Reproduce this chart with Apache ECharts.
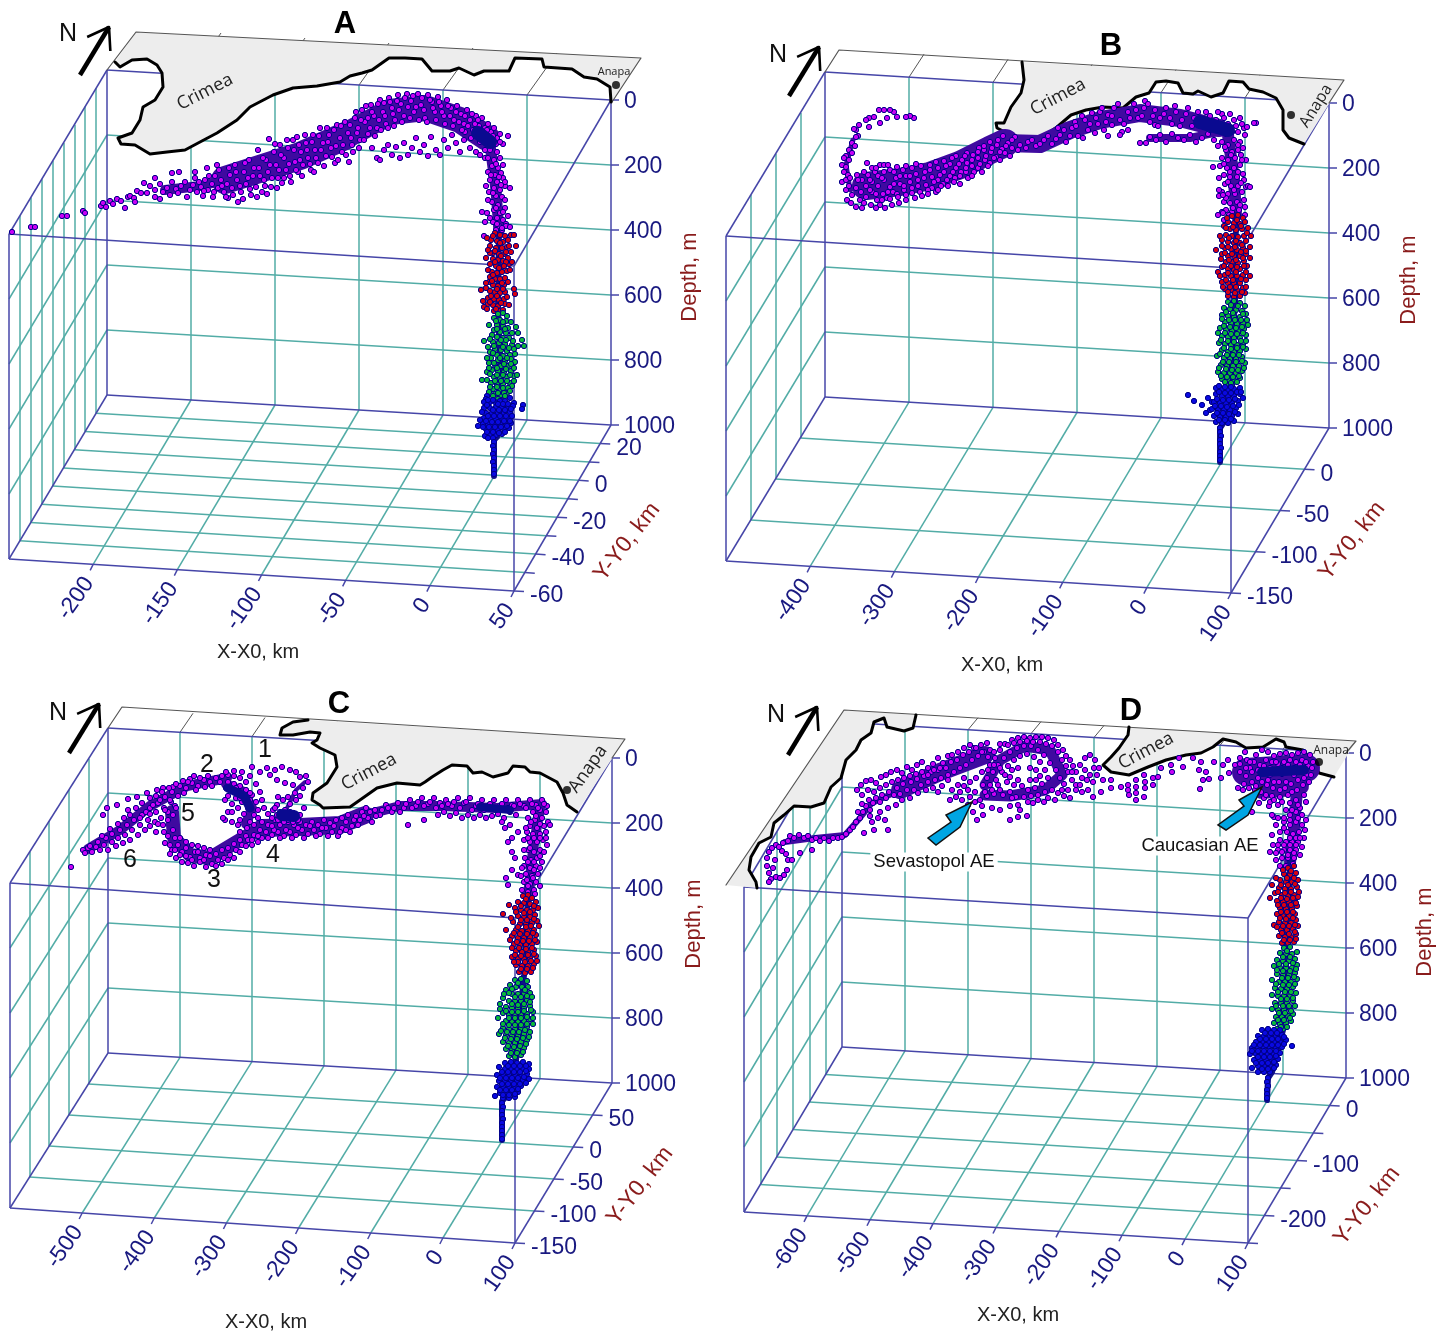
<!DOCTYPE html>
<html><head><meta charset="utf-8">
<style>html,body{margin:0;padding:0;background:#fff}#c{width:1448px;height:1331px}</style>
<script src="https://cdn.jsdelivr.net/npm/echarts@6/dist/echarts.min.js"></script></head>
<body><div id="c"></div>
<script>
// ---------- tick labels ----------
const depthTicks=[0,200,400,600,800,1000];
const A_xTicks=[-200,-150,-100,-50,0,50], A_yTicks=[20,0,-20,-40,-60];
const B_xTicks=[-400,-300,-200,-100,0,100], B_yTicks=[0,-50,-100,-150];
const C_xTicks=[-500,-400,-300,-200,-100,0,100], C_yTicks=[50,0,-50,-100,-150];
const D_xTicks=[-600,-500,-400,-300,-200,-100,0,100], D_yTicks=[0,-100,-200];

// ---------- coastlines ----------
const A_coast=[115,62,120,67,132,60,147,59,157,65,162,73,163,87,155,100,143,107,140,120,132,133,118,138,121,144,135,145,150,154,167,152,185,150,200,142,217,133,237,120,250,107,273,95,293,88,317,86,340,82,350,76,362,73,372,70,389,58,405,58,422,59,432,71,450,71,459,68,474,75,484,71,509,71,515,58,542,59,544,67,572,69,584,77,597,79,610,87,611,102];
const B_coast=[1022,62,1024,80,1021,93,1011,107,1004,123,996,123,997,128,1007,133,1014,138,1041,138,1057,127,1071,115,1086,110,1103,107,1123,108,1136,97,1149,93,1156,82,1166,81,1178,83,1183,93,1193,94,1198,91,1211,97,1223,93,1229,81,1243,82,1249,89,1263,92,1276,98,1283,110,1283,130,1289,138,1304,144];
const C_coast=[308,720,293,722,282,728,280,735,293,735,310,732,320,733,317,740,312,743,320,748,335,755,337,767,327,783,313,793,312,800,320,805,323,808,350,807,360,800,377,788,397,783,420,785,425,782,432,777,443,770,452,765,467,766,473,773,482,772,493,777,508,773,513,766,525,767,530,772,540,773,557,782,563,793,567,805,577,812];
const D_coastW=[916,715,913,728,904,731,887,727,884,718,874,722,871,733,861,740,856,750,846,760,841,778,831,787,824,803,811,807,794,806,784,815,774,823,771,837,759,843,751,857,749,870,756,882,757,888];
const D_coastE=[1129,727,1128,735,1119,748,1111,757,1103,765,1111,772,1129,775,1148,767,1166,760,1186,755,1201,753,1213,747,1223,739,1236,742,1246,748,1263,747,1276,739,1284,742,1286,747,1303,750,1313,762,1319,773,1334,777];

// ---------- purple surface-layer points ----------
const A_purple=[12,232,31,227,35,227,62,216,67,216,83,211,85,213,101,206,103,203,106,207,110,201,113,204,117,199,121,201,125,208,128,197,130,196,134,198,135,202,137,191,141,193,144,183,147,193,155,197,160,199,155,178,172,173,179,172,
150,186,155,190,160,184,163,192,167,188,172,182,170,195,176,189,181,186,178,193,185,182,190,190,187,197,193,185,195,178,197,192,201,187,205,180,203,196,208,190,207,168,212,184,215,176,213,197,218,188,221,180,219,170,224,192,227,184,230,175,228,198,232,188,235,165,237,180,238,202,241,192,244,172,246,184,249,160,251,195,253,176,256,187,258,150,259,168,262,192,264,180,266,160,268,172,269,139,271,187,274,152,276,165,278,178,280,145,282,183,284,158,286,170,288,148,290,176,293,140,295,162,297,137,298,172,301,152,303,165,306,143,308,158,311,170,313,135,315,150,318,163,320,128,323,143,326,156,329,135,331,148,335,163,337,125,340,138,342,152,345,122,348,133,349,162,352,145,355,118,358,128,360,140,362,110,365,122,368,134,371,105,374,116,377,128,380,100,383,112,386,124,389,98,392,108,395,120,398,95,401,104,404,116,407,94,411,101,414,112,418,94,421,105,425,118,428,95,432,102,435,112,438,97,441,106,444,116,447,100,451,108,454,120,457,106,461,114,464,124,467,110,470,120,473,130,476,116,479,126,482,118,485,128,488,124,491,132,494,128,497,138,500,134,503,144,508,136,492,146,485,150,480,142,478,134,471,138,465,132,
372,148,377,158,380,160,384,150,388,145,392,155,396,147,400,158,404,143,408,155,412,148,416,138,420,152,424,145,428,156,431,137,436,150,440,155,444,140,448,148,452,135,456,143,460,152,464,140,470,148,476,152,480,155,
490,150,497,152,485,158,494,160,500,158,492,166,498,168,488,172,495,175,501,173,490,180,497,182,503,178,494,188,500,190,489,192,496,196,502,197,492,202,498,205,505,200,494,210,500,213,487,213,505,208,497,218,503,220,493,222,499,226,506,224,482,212,485,222,484,236,505,186,510,188,506,226,510,227,496,230,502,230];
const A_purple2=[195,172,199,182,204,191,209,176,214,192,217,165,222,186,226,197,229,168,233,195,236,172,240,186,243,199,245,163,248,178,250,189,254,168,257,197,260,176,263,158,265,186,267,194,270,165,272,178,275,144,277,188,279,170,281,155,284,178,287,140,289,164,291,182,294,150,296,170,299,145,300,160,302,176,305,135,307,150,310,164,312,142,314,172,316,158,319,136,321,150,324,166,327,128,328,142,332,157,334,130,336,146,338,160,341,126,343,145,346,155,350,125,351,138,353,152,356,112,357,133,359,148,361,120,364,140,366,106,368,118,370,128,372,112,375,136,378,104,379,120,381,130,384,103,385,116,388,128,390,102,393,114,394,126,397,101,399,110,402,122,405,98,408,107,410,118,413,96,416,107,419,120,422,98,424,110,427,122,430,100,433,108,436,120,439,102,442,112,445,124,448,106,450,116,453,126,456,112,459,122,462,130,465,116,468,126,472,114,475,124,478,120,481,130,484,136,487,130,490,138,493,136,496,144,500,142,486,142,488,158,496,164,503,165,491,175,499,177,505,182,486,186,493,193,501,185,488,200,496,208,503,212,490,218,497,224,502,228,508,216];
const B_purple=[914,118,910,116,906,117,897,117,894,112,890,110,884,110,879,110,887,118,880,123,874,117,869,118,866,120,869,127,859,125,856,130,854,129,858,136,856,137,852,143,855,146,849,150,852,153,846,156,844,158,849,160,842,165,846,167,844,172,848,175,842,182,846,180,850,178,846,190,849,186,847,200,852,195,851,203,856,207,862,208,
857,175,867,163,872,168,862,180,868,175,875,172,880,165,884,165,856,188,861,192,866,186,872,182,878,176,884,172,860,200,866,197,872,192,878,186,884,180,890,170,897,167,871,205,877,200,883,194,890,187,896,178,903,170,880,205,887,198,893,192,900,184,906,176,912,168,890,199,897,194,904,190,910,182,916,174,921,166,906,195,912,188,918,180,925,172,930,165,920,192,926,185,932,177,938,168,944,161,932,188,938,180,944,172,950,164,956,156,943,184,950,176,956,168,962,160,967,153,955,178,961,172,967,163,973,155,979,148,966,172,972,166,978,158,984,150,990,142,978,168,985,160,991,152,997,145,1003,136,990,163,996,157,1002,149,1008,143,1015,137,1005,153,1012,148,1020,145,1028,142,1036,146,1044,140,1052,144,1060,135,1066,142,1072,128,1078,136,1085,120,1088,130,1083,138,1092,113,1098,124,1104,130,1108,115,1114,108,1120,120,1122,132,1128,112,1134,104,1138,118,1144,108,1150,122,1155,110,1160,118,1166,108,1172,124,1176,112,1182,120,1188,108,1192,126,1198,112,1204,122,1210,116,1216,120,1222,114,1228,124,1234,120,1240,118,1244,128,1256,123,1247,127,1145,101,1100,112,1112,125,1095,133,1075,122,1058,128,
1140,143,1146,143,1150,137,1156,140,1160,135,1166,142,1172,134,1178,138,1184,140,1190,135,1196,142,1202,138,1208,134,1214,140,1120,135,1128,130,1108,136,1155,125,
1222,142,1228,145,1234,140,1240,142,1245,135,1218,146,1226,150,1232,152,1238,150,1243,148,1222,158,1228,160,1235,158,1241,155,1220,166,1227,168,1234,168,1240,165,1246,160,1213,167,1224,175,1230,177,1237,177,1243,174,1225,184,1231,186,1238,186,1244,180,1219,178,1222,192,1228,194,1235,194,1242,192,1246,187,1219,196,1224,202,1230,203,1237,202,1244,200,1248,186,1226,210,1232,212,1239,210,1245,207,1222,212,1218,215];
const B_purple2=[858,180,864,172,870,180,876,168,870,190,876,194,882,178,888,165,894,172,864,203,876,208,882,200,888,192,894,184,900,176,906,166,885,208,892,205,898,197,904,186,910,176,916,164,899,203,906,200,912,193,918,186,924,178,930,170,936,162,915,198,922,196,928,190,934,182,940,175,946,166,952,158,928,194,936,192,941,186,947,180,953,172,959,164,965,156,938,190,948,186,954,182,960,176,966,168,972,160,978,152,984,146,960,184,968,178,974,172,980,164,986,156,992,148,998,140,972,176,982,172,988,166,994,158,1000,152,1006,146,1012,140,1000,160,1010,156,1018,150,1026,148,1032,140,1040,144,1048,136,1056,139,1064,130,1070,136,1076,126,1082,116,1090,124,1096,118,1102,108,1106,122,1112,116,1118,104,1124,124,1130,118,1136,110,1142,116,1148,104,1153,116,1158,126,1164,114,1170,118,1175,106,1180,126,1186,114,1194,118,1200,126,1206,112,1212,126,1218,112,1224,118,1230,114,1236,126,1242,124,1210,130,1220,130,1226,134,1232,132,1238,132,1216,124,1225,147,1231,155,1238,145,1242,160,1224,164,1230,172,1238,172,1228,182,1234,190,1241,183,1226,198,1233,208,1240,205,1229,215,1245,215,1224,220,1250,187,1254,123,1219,190,1223,195,1223,213];
const C_purple=[83,850,85,853,88,848,92,852,96,847,100,850,98,842,104,845,108,850,106,838,112,842,116,846,112,834,118,838,123,843,120,830,125,835,130,840,127,825,132,830,138,835,134,820,140,825,145,830,150,826,142,815,148,820,155,822,150,808,156,812,161,818,158,803,164,808,168,812,165,797,171,802,175,806,172,792,178,796,184,793,180,786,186,788,192,783,198,786,190,779,204,780,210,782,216,778,222,776,228,775,234,776,240,778,246,782,
107,808,117,805,128,799,137,797,147,793,157,790,163,788,173,787,188,782,200,778,103,815,71,867,
228,782,234,784,240,786,246,790,252,795,256,802,258,810,250,800,244,795,238,792,232,790,226,788,236,798,242,802,248,808,254,815,232,804,238,808,244,814,228,796,250,822,258,818,247,828,240,820,228,812,225,820,232,822,238,825,223,818,
140,818,146,812,153,805,160,800,130,815,165,810,170,800,163,825,168,820,173,815,176,808,173,830,175,838,170,845,165,843,172,850,178,845,182,852,186,848,190,857,195,852,200,858,206,855,170,854,176,858,182,862,188,863,194,866,200,862,206,867,212,864,218,860,224,858,230,855,222,850,216,854,210,850,204,848,198,846,192,845,186,842,180,838,228,848,234,844,240,840,246,836,236,850,242,845,248,840,254,835,252,845,258,842,262,838,260,830,266,832,272,835,278,832,284,836,290,832,296,835,302,830,308,834,314,830,320,834,326,828,332,832,338,836,342,828,350,832,346,822,254,825,262,822,268,825,275,820,280,825,288,822,294,825,300,822,306,825,312,822,318,825,324,820,330,823,336,820,342,818,348,815,354,820,358,825,362,812,368,818,372,822,366,808,375,810,380,815,386,805,392,812,398,803,404,808,410,800,416,806,422,798,428,804,434,798,440,803,446,800,452,806,458,798,464,803,470,798,476,806,482,800,488,806,494,800,500,806,506,800,512,805,518,800,524,806,530,800,536,805,542,800,547,806,
438,815,444,812,450,816,456,813,462,818,468,815,474,818,480,815,486,818,492,816,498,814,504,818,510,812,516,815,408,825,424,820,
252,767,260,772,267,768,275,770,282,767,290,770,300,777,308,782,303,788,295,793,288,797,283,800,278,797,277,805,273,810,287,813,293,813,270,775,277,780,285,783,293,785,280,812,285,810,290,812,295,815,298,820,283,818,288,820,293,822,277,815,272,818,268,814,275,808,
533,812,540,810,546,812,528,818,535,820,542,818,548,822,530,826,537,828,544,826,550,825,527,832,533,834,540,834,546,832,502,822,505,828,510,825,512,838,508,842,518,832,524,840,530,842,537,842,543,840,528,850,534,852,540,850,547,845,525,858,531,860,537,858,544,852,512,852,515,858,524,866,530,868,536,866,542,862,512,870,518,875,526,874,532,876,538,874,524,882,530,884,536,882,506,878,508,885,522,890,528,892,534,890,540,886];
const C_purple2=[90,846,102,836,110,829,118,824,124,818,128,810,136,808,142,803,150,798,156,796,162,792,169,788,176,784,183,781,194,776,208,776,226,772,234,771,242,772,250,776,256,784,260,792,262,800,264,808,220,782,212,786,205,787,196,790,240,798,246,802,236,788,250,793,225,800,232,812,240,832,150,814,158,824,164,832,168,836,156,832,175,850,180,855,186,856,192,860,198,852,204,860,210,856,216,866,222,864,228,860,234,858,240,852,246,846,252,840,258,836,268,838,274,830,280,838,286,830,292,838,298,828,304,838,310,826,316,836,322,828,328,836,334,826,340,832,346,830,352,826,356,816,360,820,364,816,370,812,376,816,382,810,388,808,394,808,400,812,406,804,412,808,418,802,424,806,430,802,436,808,442,806,448,804,454,802,460,808,466,802,472,810,478,804,484,810,490,804,496,810,502,804,508,808,514,806,520,804,526,808,532,804,538,808,544,804,290,816,284,822,278,820,272,826,300,815,304,808,296,800,290,804,300,796,306,776,296,772,
536,816,531,822,526,828,540,824,534,838,540,838,528,838,546,838,530,848,524,850,540,856,534,862,528,862,522,868,534,870,540,868,527,880,533,878,521,876,528,886,535,894];
const D_purple=[767,858,767,866,769,852,769,873,771,879,769,882,772,848,776,845,775,860,773,868,776,877,780,878,784,875,787,870,788,860,786,854,782,851,779,847,783,843,788,841,790,836,794,838,799,835,804,838,808,836,812,840,816,838,820,841,824,838,829,841,833,838,838,838,842,837,846,834,850,830,853,827,856,822,860,818,858,812,863,812,866,806,862,804,869,800,873,803,876,798,880,802,882,795,886,798,889,792,894,795,897,788,900,794,903,784,907,790,911,782,914,790,917,779,921,785,924,776,928,782,931,772,935,780,938,770,941,778,944,766,948,775,951,762,954,772,957,760,960,768,963,755,966,765,969,752,972,760,974,748,978,756,981,745,984,752,987,743,990,750,857,790,861,785,866,781,871,780,876,783,881,777,886,775,891,772,897,770,902,773,907,767,912,770,917,765,922,762,928,768,933,764,938,758,943,763,948,756,870,816,872,822,874,830,880,812,885,820,888,830,864,833,812,850,800,853,792,860,
990,765,995,758,1000,750,1005,744,1012,740,1018,738,1024,737,1030,738,1036,737,1042,737,1048,738,1054,740,1058,745,1063,750,1066,756,1070,760,1073,766,1068,772,1072,780,1064,784,1060,778,1056,770,1050,763,1044,755,1038,750,1031,746,1024,746,1017,748,1010,752,1004,758,998,765,993,772,987,778,983,785,990,785,996,780,1002,772,1008,766,1014,760,1020,756,1027,754,1034,757,1040,762,1045,770,1048,778,1042,784,1035,788,1028,790,1022,786,1014,785,1007,782,1000,790,994,794,987,796,980,800,975,792,970,797,968,790,964,786,960,792,1003,795,1010,792,1016,797,1024,797,1031,796,1038,795,1045,792,1052,790,1058,793,1064,796,1070,798,1055,800,1044,802,1033,803,982,806,992,808,1000,810,1010,806,1018,805,973,812,983,815,977,820,1018,817,1027,816,1020,810,1010,820,
1076,772,1080,765,1085,758,1090,755,1095,760,1099,768,1097,775,1093,782,1088,790,1082,792,1076,785,1085,770,1090,775,1087,780,1082,778,1094,768,1080,785,
1103,780,1111,780,1101,792,1093,797,1111,788,1121,787,1128,785,1128,790,1129,795,1136,780,1136,787,1136,793,1136,800,1144,775,1145,782,1145,788,1144,797,1153,778,1153,785,1158,777,1161,768,1171,765,1172,772,1179,758,1183,767,1193,758,1201,762,1199,770,1206,772,1203,780,1209,779,1200,789,1214,762,1223,765,1221,778,1228,760,1229,773,1238,788,1243,790,1249,788,1259,803,1269,806,1252,812,1274,817,
1235,765,1240,758,1245,752,1250,768,1256,755,1262,750,1268,752,1274,756,1280,754,1286,753,1292,755,1298,753,1304,752,1310,755,1313,762,1308,766,1302,760,1296,762,1290,760,1284,762,1278,764,1272,762,1266,760,1260,765,1254,762,1247,760,1240,772,1246,776,1252,782,1258,778,1264,772,1270,775,1276,770,1282,774,1288,770,1294,775,1300,770,1306,775,1309,782,1303,785,1297,790,1291,784,1285,788,1279,782,1273,788,1267,785,1261,792,1255,790,1272,796,1280,797,1288,795,1296,800,1304,795,1270,802,1278,805,1286,810,1264,798,1300,808,1306,802,
1290,815,1296,812,1302,815,1284,822,1290,825,1296,822,1302,825,1306,820,1280,832,1287,832,1293,834,1299,832,1305,830,1272,815,1276,825,1280,840,1286,842,1292,842,1298,842,1304,838,1272,835,1278,850,1284,850,1290,850,1296,850,1302,847,1273,845,1270,852,1276,860,1282,858,1288,858,1294,858,1300,855,1280,866,1286,866,1293,864];
const D_purple2=[862,795,868,790,874,792,880,788,886,785,892,782,898,780,904,778,910,776,916,774,922,772,928,775,934,770,940,768,946,768,952,755,958,752,964,748,970,745,976,748,982,752,988,757,994,752,1000,744,1008,745,1014,743,1020,742,1027,741,1033,742,1040,742,1046,744,1052,746,1058,752,1062,760,1066,766,1072,772,994,765,1000,768,988,770,982,772,976,778,970,782,964,778,958,785,952,790,948,780,942,786,938,792,933,788,926,790,918,793,910,798,902,800,896,805,888,808,878,818,870,810,1005,775,1012,770,1018,768,1030,768,1036,770,1040,776,1036,780,1030,780,1018,780,1010,777,998,785,992,790,985,792,1012,798,1028,802,1038,800,1048,798,1062,790,1076,790,1068,790,975,802,968,805,962,800,956,797,950,800,
1240,764,1246,768,1252,772,1258,770,1264,766,1270,768,1276,762,1282,768,1288,765,1294,768,1300,765,1306,762,1312,768,1244,784,1250,762,1256,786,1262,782,1268,780,1274,782,1280,790,1286,782,1292,792,1298,780,1304,778,1311,775,1266,795,1274,800,1282,802,1290,803,1298,805,1292,810,1284,818,1278,818,1298,818,1290,820,1284,828,1290,838,1296,838,1278,845,1284,845,1296,845,1290,845,1282,852,1288,855,1294,853,1276,853,1300,838];

// ---------- red (mid layer) points ----------
const A_red=[495,233,500,235,505,236,491,240,497,241,503,242,511,235,514,235,490,246,496,248,502,248,507,247,493,253,499,254,504,254,490,253,509,246,516,246,493,259,498,260,503,261,508,258,490,264,496,266,502,267,509,264,512,262,492,272,497,273,502,272,507,271,490,277,495,279,500,279,505,278,489,282,486,283,493,285,498,286,504,285,514,289,481,290,490,291,495,292,500,293,505,292,515,294,488,298,494,299,499,300,504,299,488,304,483,301,493,305,498,306,505,304,509,305,484,307,487,309,494,311,499,311,503,310];
const A_red2=[487,238,493,236,508,240,488,250,500,243,495,251,506,252,511,252,486,258,501,256,495,262,506,262,488,270,499,268,504,266,493,275,510,270,486,288,492,281,502,283,508,282,497,289,503,289,491,296,497,296,507,297,490,302,501,303,496,309];
const B_red=[1232,216,1238,215,1243,218,1228,222,1234,223,1240,224,1245,222,1224,226,1230,229,1236,230,1242,229,1248,228,1226,235,1232,236,1238,237,1244,236,1222,240,1228,242,1234,243,1240,243,1246,241,1251,236,1225,248,1231,249,1237,250,1243,248,1222,254,1228,256,1234,256,1240,256,1246,254,1216,250,1226,262,1232,262,1238,263,1244,261,1250,258,1222,267,1228,269,1234,270,1240,269,1247,266,1218,272,1225,275,1231,276,1237,276,1243,275,1222,282,1228,283,1234,283,1240,283,1246,280,1225,289,1231,290,1237,290,1243,288,1228,296,1234,297,1240,296,1245,293];
const B_red2=[1227,218,1237,220,1226,228,1233,227,1241,226,1220,236,1229,238,1236,241,1247,233,1222,246,1228,247,1235,247,1242,245,1250,247,1225,253,1232,254,1241,252,1246,251,1221,259,1229,260,1236,260,1243,258,1224,266,1231,266,1237,267,1244,266,1220,276,1228,273,1236,272,1246,272,1226,280,1233,280,1241,279,1250,276,1223,287,1230,287,1236,287,1246,287,1228,292,1235,293,1242,292];
const C_red=[523,896,528,895,532,898,518,902,524,903,530,904,536,902,515,908,521,910,527,910,533,910,538,908,509,905,518,916,524,917,530,917,535,915,513,922,520,924,526,924,532,923,537,921,503,914,516,930,522,931,528,931,534,930,512,936,518,938,524,938,530,937,536,935,506,930,514,944,520,945,526,945,532,944,537,942,516,951,522,952,528,952,534,950,512,957,518,959,524,959,530,958,536,956,516,965,522,966,528,966,534,964,519,972,525,973,531,972];
const C_red2=[526,899,521,906,534,906,530,912,524,913,516,912,511,918,527,920,521,920,534,919,518,927,526,927,531,926,539,926,514,933,520,934,533,933,527,934,510,940,517,942,523,941,529,941,535,940,512,948,519,948,526,949,532,948,515,955,521,956,528,955,534,954,518,962,525,962,531,961,537,961,521,969,527,969,533,968,514,962];
const D_red=[1288,868,1294,866,1284,874,1290,875,1296,873,1280,880,1286,882,1292,882,1298,880,1276,878,1272,885,1279,888,1285,889,1291,889,1297,887,1275,893,1282,895,1288,896,1294,895,1299,892,1270,898,1277,901,1283,902,1289,902,1295,901,1280,908,1286,909,1292,909,1297,906,1277,914,1283,916,1289,916,1295,914,1279,922,1285,923,1291,923,1296,920,1274,925,1281,930,1287,930,1293,929,1298,926,1279,936,1285,937,1291,937,1296,934,1282,943,1288,943,1294,942];
const D_red2=[1291,871,1283,870,1287,878,1294,878,1281,885,1288,885,1295,884,1278,892,1285,893,1291,892,1298,897,1281,898,1287,899,1293,898,1278,905,1284,905,1291,905,1296,903,1281,912,1287,912,1293,912,1280,918,1286,919,1293,918,1283,926,1289,926,1295,925,1277,927,1282,933,1289,934,1295,932,1284,940,1290,940,1296,939];

// ---------- green (deep layer) points ----------
const A_green=[498,314,503,313,507,316,494,318,500,320,506,321,511,322,497,325,503,326,508,328,494,330,500,332,506,333,516,327,492,335,497,337,503,338,509,338,518,333,522,340,493,342,499,343,505,344,512,345,484,341,518,346,495,349,501,350,507,351,514,349,490,352,497,355,503,356,510,355,524,346,491,358,498,360,505,361,511,359,489,363,495,365,501,366,508,366,515,362,492,370,498,371,504,372,511,371,487,372,494,377,500,378,507,377,514,376,491,383,497,384,503,384,510,383,482,380,517,375,493,389,499,390,505,390,512,386,495,394,501,395,507,393,498,399];
const A_green2=[496,321,503,322,489,325,497,329,505,329,512,333,490,339,501,340,506,340,513,341,488,347,494,346,503,347,509,348,493,353,500,358,507,358,515,354,487,358,494,363,504,364,511,364,489,368,497,368,506,369,514,368,490,374,497,375,503,375,510,375,487,380,495,381,501,381,507,381,514,381,490,387,497,387,503,388,508,388,489,392,498,393,504,393,510,391,493,396,505,396];
const B_green=[1228,302,1234,301,1240,303,1245,306,1224,308,1230,309,1236,310,1242,311,1222,315,1228,316,1234,317,1240,317,1246,314,1225,322,1231,323,1237,324,1243,323,1220,328,1226,330,1232,331,1238,331,1244,329,1248,325,1222,336,1228,337,1234,338,1240,338,1246,335,1219,343,1225,344,1231,345,1237,345,1243,344,1222,350,1228,352,1234,352,1240,351,1246,349,1217,356,1224,358,1230,359,1236,359,1242,357,1221,365,1227,366,1233,366,1239,366,1245,363,1218,372,1224,373,1230,373,1236,373,1242,371,1222,379,1228,380,1234,380,1240,378,1226,385,1232,385];
const B_green2=[1231,305,1238,306,1226,312,1233,313,1243,314,1222,319,1229,320,1235,320,1241,320,1247,320,1224,326,1230,327,1236,328,1242,327,1218,333,1225,333,1231,334,1237,334,1243,333,1221,340,1228,341,1234,342,1241,341,1246,341,1224,348,1231,349,1237,348,1243,347,1220,354,1227,355,1233,355,1239,355,1223,362,1229,362,1236,362,1242,361,1219,368,1226,369,1232,370,1238,370,1244,368,1221,376,1227,377,1233,377,1239,376,1225,382,1231,383,1237,382];
const C_green=[515,980,521,979,527,981,510,985,516,987,522,987,528,987,506,990,512,994,518,994,524,994,530,993,503,998,509,1001,515,1001,521,1001,527,1000,532,997,506,1007,512,1008,518,1008,524,1008,530,1006,503,1013,509,1015,515,1015,521,1015,527,1014,533,1012,498,1018,506,1021,512,1022,518,1022,524,1021,530,1019,503,1028,509,1029,515,1029,521,1028,527,1027,533,1024,499,1034,506,1035,512,1036,518,1036,524,1034,530,1032,503,1042,509,1043,515,1043,521,1042,527,1040,506,1049,512,1050,518,1050,524,1048,509,1056,515,1057,521,1055];
const C_green2=[518,983,512,989,525,990,509,993,515,997,521,997,527,996,504,994,512,1004,518,1005,524,1004,530,1002,500,1004,506,1011,512,1012,518,1012,524,1011,531,1010,500,1009,509,1018,515,1018,521,1018,527,1017,533,1018,503,1024,509,1025,515,1025,521,1025,527,1024,501,1031,507,1032,513,1032,519,1032,525,1030,505,1038,511,1039,517,1039,523,1038,529,1037,508,1046,514,1047,520,1046,526,1044,511,1053,517,1053,523,1052];
const D_green=[1284,948,1290,947,1280,953,1286,954,1292,954,1297,952,1277,960,1283,961,1289,961,1295,959,1274,966,1280,968,1286,968,1292,968,1297,965,1277,974,1283,975,1289,975,1295,973,1272,980,1279,982,1285,982,1291,982,1297,979,1275,988,1281,989,1287,989,1293,987,1272,995,1278,996,1284,996,1290,996,1296,993,1275,1003,1281,1003,1287,1003,1293,1001,1272,1009,1278,1010,1284,1010,1290,1009,1295,1006,1276,1017,1282,1017,1288,1016,1293,1014,1274,1023,1280,1024,1286,1023,1291,1021,1277,1029,1283,1029];
const D_green2=[1287,951,1283,957,1290,957,1279,964,1286,964,1293,963,1283,971,1290,971,1277,970,1296,969,1282,978,1288,978,1294,977,1276,984,1283,985,1289,985,1295,984,1278,992,1285,992,1291,992,1281,999,1287,999,1293,998,1276,1006,1283,1006,1289,1006,1279,1013,1285,1013,1291,1011,1278,1020,1284,1020,1290,1018,1281,1027,1287,1027];

// ---------- blue (bottom layer) points ----------
const A_blue=[487,396,486,399,484,402,490,402,495,402,500,401,505,401,510,398,514,403,523,405,522,409,484,408,490,408,496,407,502,407,508,407,513,406,486,413,492,413,498,413,504,413,510,412,484,418,490,419,496,419,502,418,508,418,478,426,483,424,488,424,494,424,500,424,506,424,511,423,486,429,492,429,498,430,504,429,509,428,485,436,490,435,496,435,502,434,493,438,494,442,493,446,494,450,493,454,494,458,493,462,494,466,494,470,494,474];
const A_blue2=[488,400,493,400,498,404,503,404,508,404,487,405,493,410,499,410,505,410,511,409,482,412,488,416,494,416,500,416,506,416,512,416,480,420,486,421,492,422,498,422,504,421,510,421,483,427,489,427,495,427,501,427,507,426,487,432,493,432,499,433,505,432,488,438];
const B_blue=[1188,395,1194,401,1202,405,1208,398,1212,402,1216,388,1222,389,1228,390,1234,389,1240,388,1210,410,1216,394,1222,396,1228,396,1234,396,1240,394,1206,413,1214,402,1220,403,1226,403,1232,403,1238,401,1243,398,1212,409,1218,410,1224,410,1230,410,1236,408,1214,416,1220,417,1226,417,1232,416,1238,414,1216,422,1222,423,1228,423,1234,421,1220,428,1220,432,1221,436,1220,440,1220,444,1221,448,1220,452,1220,456,1220,460];
const B_blue2=[1219,386,1225,387,1231,387,1237,392,1219,392,1225,393,1231,393,1217,399,1223,400,1229,400,1235,399,1241,392,1215,406,1221,406,1227,407,1233,406,1239,405,1217,413,1223,413,1229,414,1235,412,1219,420,1225,420,1231,419];
const C_blue=[505,1063,511,1062,517,1063,523,1062,529,1064,499,1067,505,1069,511,1069,517,1069,523,1069,529,1069,497,1075,503,1075,509,1075,515,1075,521,1075,527,1074,499,1081,505,1081,511,1081,517,1081,523,1080,529,1079,497,1087,503,1087,509,1087,515,1087,521,1086,500,1093,506,1093,512,1093,518,1092,495,1096,503,1098,509,1098,515,1097,502,1103,503,1107,502,1111,502,1115,503,1119,502,1123,502,1127,502,1131,502,1135,502,1139];
const C_blue2=[508,1066,514,1066,520,1066,526,1066,502,1072,508,1072,514,1072,520,1072,526,1071,500,1078,506,1078,512,1078,518,1078,524,1077,502,1084,508,1084,514,1084,520,1084,526,1083,500,1090,506,1090,512,1090,518,1089,503,1095,509,1095,515,1094];
const D_blue=[1262,1030,1268,1029,1274,1030,1280,1030,1258,1036,1264,1036,1270,1036,1276,1036,1282,1035,1256,1042,1262,1042,1268,1042,1274,1042,1280,1042,1286,1040,1252,1048,1258,1048,1264,1048,1270,1048,1276,1048,1282,1047,1292,1046,1250,1054,1256,1054,1262,1054,1268,1054,1274,1054,1280,1053,1254,1060,1260,1060,1266,1060,1272,1060,1278,1059,1252,1068,1258,1066,1264,1066,1270,1066,1276,1065,1258,1072,1264,1072,1270,1072,1268,1078,1267,1082,1268,1086,1267,1090,1267,1094,1267,1098];
const D_blue2=[1265,1033,1271,1033,1277,1033,1260,1039,1266,1039,1272,1039,1278,1039,1284,1037,1254,1045,1260,1045,1266,1045,1272,1045,1278,1045,1284,1044,1252,1051,1258,1051,1264,1051,1270,1051,1276,1051,1258,1057,1264,1057,1270,1057,1276,1056,1256,1063,1262,1063,1268,1063,1274,1062,1262,1069,1268,1069,1274,1068];

// ---------- ridge lines through the dot clouds ----------
const A_tailBand=[165,190,200,186,225,180];
const A_midBand=[225,180,300,156,345,136];
const A_archBand=[345,136,390,112,425,108,460,120,487,138];
const A_darkCore=[478,133,490,142];
const A_column=[490,145,496,190,499,232];
const A_deep=[499,232,498,310,502,400,497,437,494,440,494,476];
const B_mainBand=[866,186,900,182,930,176,960,165,990,150,1005,143];
const B_hook=[860,185,850,190,846,165,853,140];
const B_eastBand=[1005,143,1040,144,1070,130,1100,120,1140,113,1180,118,1219,128];
const B_lowBand=[1150,138,1190,138,1218,132];
const B_darkCore=[1200,122,1228,130];
const B_column=[1228,135,1234,180,1236,215];
const B_deep=[1236,215,1235,300,1230,385,1224,422,1220,428,1220,462];
const C_westBand=[88,849,120,830,150,806,187,786,227,778];
const C_eye=[226,784,244,792,252,808,246,824];
const C_southBand=[172,812,174,838,190,855,210,858,240,840,262,828];
const C_eastBand=[262,828,300,827,340,825,365,815];
const C_farBand=[365,815,400,806,440,806,497,808,542,804];
const C_loop=[285,812,296,790,305,782];
const C_darkCore=[282,815,294,816];
const C_darkCore2=[228,788,244,796,250,808];
const C_darkCore3=[480,807,510,810];
const C_column=[540,808,533,850,528,895];
const C_deep=[528,895,524,975,516,1060,508,1095,502,1101,502,1140];
const D_westBand=[785,842,815,838,845,835,860,818,872,803,900,790];
const D_midBand=[900,790,940,772,985,755];
const D_eddy=[985,785,1000,760,1025,746,1050,750,1062,775,1045,790,1010,796,985,795];
const D_eastBand=[1246,772,1306,768];
const D_eastBand2=[1262,790,1300,786];
const D_darkCore=[1262,772,1304,770];
const D_column=[1297,790,1293,840,1290,862];
const D_deep=[1290,862,1287,945,1283,1030,1272,1072,1268,1078,1267,1100];

// ---------- panel annotation arrows ----------
const A_north=[80,75,109,27], B_north=[789,96,819,47], C_north=[69,753,99,704], D_north=[788,755,817,707];
const D_arrowSev=[972,802,946,815,951,822,928,838,936,845,960,827];
const D_arrowCau=[1262,787,1239,800,1244,806,1218,825,1226,830,1248,815];

const pairs=f=>{const o=[];for(let i=0;i<f.length;i+=2)o.push([f[i],f[i+1]]);return o;};
const LAND='#ededed',TEAL='#52aca6',FRAME='#4646a8',NAVY='#191980',DRED='#8a1c1c',EDGE='#555';
const SANS='"Liberation Sans",Arial,sans-serif';

const panels=[
 {tag:'A',region:[0,0,724,665],tl:[107,70],tr:[611,100],fr:[514,266],fl:[9,234],h:325,
  xr:[-250,50],xs:50,yr:[30,-60],ys:10,xT:A_xTicks,yT:A_yTicks,
  land:[pairs(A_coast).concat([[641,58],[136,32]])],coast:[A_coast],edge:[[107,70],[136,32],[641,58],[612,102]],
  north:A_north,nLabel:[68,32],title:[345,22],dot:[616,85],depth:[690,275],yName:[627,540],xName:[258,650],
  crimea:[205,90,17],anapa:[614,70,11,0],
  purple:A_purple.concat(A_purple2),red:A_red.concat(A_red2),green:A_green.concat(A_green2),blue:A_blue.concat(A_blue2),
  bands:[[A_tailBand,10],[A_midBand,28],[A_archBand,26],[A_column,11]],deep:A_deep,dark:[[A_darkCore,14]]},
 {tag:'B',region:[724,0,724,665],tl:[825,72],tr:[1329,103],fr:[1231,268],fl:[726,236],h:325,
  xr:[-500,100],xs:100,yr:[50,-150],ys:50,xT:B_xTicks,yT:B_yTicks,
  land:[pairs(B_coast).concat([[1344,80]])],coast:[B_coast],edge:[[825,72],[839,50],[1344,80],[1329,103]],
  north:B_north,nLabel:[778,53],title:[1111,44],dot:[1291,115],depth:[1409,278],yName:[1352,539],xName:[1002,663],
  crimea:[1058,95,18],anapa:[1316,104,16,58],
  purple:B_purple.concat(B_purple2),red:B_red.concat(B_red2),green:B_green.concat(B_green2),blue:B_blue.concat(B_blue2),
  bands:[[B_mainBand,28],[B_hook,5],[B_eastBand,18],[B_lowBand,8],[B_column,12]],deep:B_deep,dark:[[B_darkCore,14]]},
 {tag:'C',region:[0,665,724,666],tl:[108,728],tr:[612,758],fr:[515,918],fl:[10,883],h:325,
  xr:[-600,100],xs:100,yr:[100,-150],ys:50,xT:C_xTicks,yT:C_yTicks,
  land:[pairs(C_coast).concat([[625,739]])],coast:[C_coast],edge:[[108,728],[122,707],[625,739],[612,758]],
  north:C_north,nLabel:[58,711],title:[339,702],dot:[567,790],depth:[694,922],yName:[640,1184],xName:[266,1320],
  crimea:[369,770,18],anapa:[588,767,18,55],
  purple:C_purple.concat(C_purple2),red:C_red.concat(C_red2),green:C_green.concat(C_green2),blue:C_blue.concat(C_blue2),
  bands:[[C_westBand,10],[C_eye,10],[C_southBand,14],[C_eastBand,18],[C_farBand,10],[C_loop,4],[C_column,10]],deep:C_deep,
  dark:[[C_darkCore,12],[C_darkCore2,9],[C_darkCore3,8]],
  notes:[['1',265,748],['2',207,763],['5',188,812],['3',214,878],['4',273,853],['6',130,858]]},
 {tag:'D',region:[724,665,724,666],tl:[842,722],tr:[1346,753],fr:[1248,918],fl:[744,887],h:325,
  xr:[-700,100],xs:100,yr:[50,-250],ys:50,xT:D_xTicks,yT:D_yTicks,
  land:[pairs(D_coastW).concat([[726,885],[844,710]]),pairs(D_coastE).concat([[1356,741]])],coast:[D_coastW,D_coastE],
  edge:[[726,885],[844,710],[1356,741],[1346,753]],
  north:D_north,nLabel:[776,713],title:[1131,709],dot:[1319,762],depth:[1425,930],yName:[1367,1204],xName:[1018,1313],
  crimea:[1146,749,18],anapa:[1331,749,12,0],
  purple:D_purple.concat(D_purple2),red:D_red.concat(D_red2),green:D_green.concat(D_green2),blue:D_blue.concat(D_blue2),
  bands:[[D_westBand,6],[D_midBand,18],[D_eddy,11],[D_eastBand,28],[D_eastBand2,18],[D_column,12]],deep:D_deep,dark:[[D_darkCore,10]],
  callouts:[['Sevastopol AE',934,860,D_arrowSev],['Caucasian AE',1200,844,D_arrowCau]]}
];

const grid=[],xAxis=[],yAxis=[],series=[];
const lerp=(a,b,t)=>[a[0]+(b[0]-a[0])*t,a[1]+(b[1]-a[1])*t];

panels.forEach((p,i)=>{
  const [x0,y0,w,h]=p.region;
  grid.push({left:x0,top:y0,width:w,height:h});
  xAxis.push({type:'value',gridIndex:i,min:x0,max:x0+w,show:false});
  yAxis.push({type:'value',gridIndex:i,min:y0,max:y0+h,inverse:true,show:false});
  const ax={xAxisIndex:i,yAxisIndex:i};
  // 3-D box scale: X km, Y km, depth m -> picture plane
  const U=x=>(x-p.xr[0])/(p.xr[1]-p.xr[0]), V=y=>(y-p.yr[0])/(p.yr[1]-p.yr[0]), Dz=d=>d/1000;
  const P=(u,v,d)=>{const a=lerp(p.tl,p.tr,u),b=lerp(p.fl,p.fr,u),c=lerp(a,b,v);return [c[0],c[1]+d*p.h];};
  const teal=[],frame=[],edge=[];
  const seg=(arr,a,b)=>arr.push({coords:[a,b]});
  const backDx=p.edge[2][0]-p.tr[0],backDy=p.edge[2][1]-p.tr[1];
  for(let x=p.xr[0]+p.xs;x<p.xr[1];x+=p.xs){const u=U(x),a=P(u,0,0);
    seg(teal,a,P(u,0,1));seg(teal,P(u,0,1),P(u,1,1));
    seg(edge,a,[a[0]+backDx,a[1]+backDy]);}
  for(let y=p.yr[0]-p.ys;y>p.yr[1];y-=p.ys){const v=V(y);
    seg(teal,P(0,v,0),P(0,v,1));seg(teal,P(0,v,1),P(1,v,1));}
  depthTicks.slice(1,-1).forEach(d=>{const z=Dz(d);
    seg(teal,P(0,1,z),P(0,0,z));seg(teal,P(0,0,z),P(1,0,z));});
  [[0,0],[1,0],[0,1],[1,1]].forEach(([u,v])=>seg(frame,P(u,v,0),P(u,v,1)));
  [0,1].forEach(d=>{seg(frame,P(0,0,d),P(1,0,d));seg(frame,P(0,1,d),P(1,1,d));seg(frame,P(0,0,d),P(0,1,d));seg(frame,P(1,0,d),P(1,1,d));});
  // ticks
  const texts=[];
  depthTicks.forEach(d=>{const a=P(1,0,Dz(d));seg(frame,a,[a[0]+8,a[1]]);
    texts.push({t:String(d),x:a[0]+13,y:a[1],f:`23px ${SANS}`,c:NAVY,al:'left',r:0});});
  p.xT.forEach(x=>{const a=P(U(x),1,1);seg(frame,a,[a[0]-3,a[1]+6]);
    texts.push({t:String(x),x:a[0]-4,y:a[1]+13,f:`23px ${SANS}`,c:NAVY,al:'right',r:55});});
  for(let y=p.yr[0]-p.ys;y>=p.yr[1];y-=p.ys){const a=P(1,V(y),1);seg(frame,a,[a[0]+10,a[1]+0.6]);}
  p.yT.forEach(y=>{const a=P(1,V(y),1);
    texts.push({t:String(y),x:a[0]+16,y:a[1]+3,f:`23px ${SANS}`,c:NAVY,al:'left',r:0});});
  // names
  texts.push({t:'Depth, m',x:p.depth[0],y:p.depth[1],f:`22px ${SANS}`,c:DRED,al:'center',r:90});
  texts.push({t:'Y-Y0, km',x:p.yName[0],y:p.yName[1],f:`23px ${SANS}`,c:DRED,al:'center',r:52});
  texts.push({t:'X-X0, km',x:p.xName[0],y:p.xName[1],f:`20px ${SANS}`,c:'#222',al:'center',r:0});
  texts.push({t:p.tag,x:p.title[0],y:p.title[1],f:`bold 31px ${SANS}`,c:'#000',al:'center',r:0});
  texts.push({t:'N',x:p.nLabel[0],y:p.nLabel[1],f:`25px ${SANS}`,c:'#111',al:'center',r:0});
  texts.push({t:'Crimea',x:p.crimea[0],y:p.crimea[1],f:`18px "Open Sans",${SANS}`,c:'#222',al:'center',r:p.crimea[2]+10});
  texts.push({t:'Anapa',x:p.anapa[0],y:p.anapa[1],f:`${p.anapa[2]}px "Open Sans",${SANS}`,c:'#222',al:'center',r:p.anapa[3]});
  (p.notes||[]).forEach(n=>texts.push({t:n[0],x:n[1],y:n[2],f:`25px ${SANS}`,c:'#111',al:'center',r:0}));
  (p.callouts||[]).forEach(n=>texts.push({t:n[0],x:n[1],y:n[2],f:`18.5px ${SANS}`,c:'#111',al:'center',r:0,bg:'#fff'}));

  const lines=(data,color,width,z)=>series.push({type:'lines',coordinateSystem:'cartesian2d',...ax,polyline:false,silent:true,z,clip:false,data,lineStyle:{color,width,opacity:1},effect:{show:false}});
  lines(teal,TEAL,1.5,2);lines(frame,FRAME,1.5,3);lines(edge,EDGE,1,2);
  const poly=(pts,fill,stroke,lw,z)=>series.push({type:'custom',...ax,silent:true,z,clip:false,coordinateSystem:'cartesian2d',data:[pts[0]],
    renderItem:(ps,api)=>({type:'polygon',shape:{points:pts.map(q=>api.coord(q))},style:{fill,stroke,lineWidth:lw}})});
  p.land.forEach(l=>poly(l,LAND,null,0,4));
  const pl=(pts,color,width,z,cap)=>series.push({type:'line',...ax,data:pts,symbol:'none',silent:true,z,clip:false,animation:false,lineStyle:{color,width,cap:cap||'round',join:'round'}});
  pl(p.edge,EDGE,1.2,5);
  p.coast.forEach(c=>pl(pairs(c),'#000',3,6));
  (p.callouts||[]).forEach(c=>poly(pairs(c[3]),'#00a5e3','#111',1.5,14));
  // trajectories
  p.bands.forEach(([b,lw])=>pl(pairs(b),'#3f0aa0',lw,7));
  pl(pairs(p.deep),'#10108a',6,7);
  const dots=(name,d,fill)=>series.push({name:name,type:'scatter',...ax,data:pairs(d),symbol:'circle',symbolSize:5.3,silent:true,z:8,clip:false,large:false,
    itemStyle:{color:fill,borderColor:'#000088',borderWidth:1,opacity:1}});
  dots('0-400 m',p.purple,'#c800f5');dots('400-600 m',p.red,'#d80010');dots('600-800 m',p.green,'#08b838');dots('800-1000 m',p.blue,'#0a0ae0');
  p.dark.forEach(([b,lw])=>pl(pairs(b),'#0a0a90',lw,9));
  // north arrow and the land dot
  const n=pairs(p.north),dx=n[0][0]-n[1][0],dy=n[0][1]-n[1][1],L=Math.hypot(dx,dy),ux=dx/L,uy=dy/L;
  const rot=(a)=>[n[1][0]+24*(ux*Math.cos(a)-uy*Math.sin(a)),n[1][1]+24*(ux*Math.sin(a)+uy*Math.cos(a))];
  pl(n,'#000',4.5,10,'butt');
  pl([rot(0.6),n[1],rot(-0.6)],'#000',2.6,10,'butt');
  series.push({type:'scatter',...ax,data:[p.dot],symbol:'circle',symbolSize:8,silent:true,z:10,clip:false,itemStyle:{color:'#000'}});
  // all text
  series.push({type:'custom',...ax,silent:true,z:20,clip:false,coordinateSystem:'cartesian2d',data:texts.map(t=>[t.x,t.y]),
    renderItem:(ps,api)=>{const t=texts[ps.dataIndex],q=api.coord([t.x,t.y]);
      return {type:'text',x:q[0],y:q[1]+2,rotation:t.r*Math.PI/180,z2:50,style:{text:t.t,fill:t.c,font:t.f,align:t.al,verticalAlign:'middle',backgroundColor:t.bg,padding:t.bg?[0,3]:0}};}});
});

const chart=echarts.init(document.getElementById('c'),null,{width:1448,height:1331});
chart.setOption({animation:false,backgroundColor:'#fff',grid,xAxis,yAxis,series});
</script></body></html>
